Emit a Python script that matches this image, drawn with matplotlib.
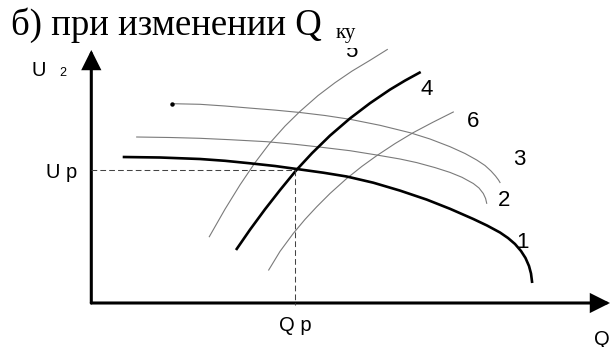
import matplotlib.pyplot as plt
from matplotlib.patches import FancyArrowPatch
from matplotlib.transforms import Bbox, TransformedBbox

# ============================================================
# THEME
# ============================================================

plt.rcParams["font.family"] = ["Liberation Sans", "DejaVu Sans"]
plt.rcParams["figure.dpi"] = 100
plt.rcParams["savefig.dpi"] = 100

THICK = "#000000"
THIN = "#7a7a7a"
DASH = "#444444"

# ============================================================
# DATA  (Q along x, U along y)
# ============================================================

# 1 - thick falling characteristic
Q1 = [32.7, 70, 110, 135, 160, 185, 206.7, 233.3, 256.7, 283.3, 310, 336.7,
      360, 383.3, 397, 410, 418, 425, 431, 435.5, 439, 441, 442.2]
U1 = [146, 145.5, 144, 142.2, 139.7, 137, 134, 130.3, 126.5, 120.3, 112.4, 103.4,
      94.2, 84, 77.5, 70.5, 65, 59, 52, 45, 37, 29.5, 20]

# 2 - thin falling characteristic
Q2 = [46.7, 80, 110, 140, 176.7, 205, 230, 260, 286.7, 310, 326.7, 345,
      360, 372, 383.3, 389, 393.3, 395.6, 396.7]
U2 = [166, 165.5, 164.7, 163.3, 161.3, 158.7, 155.9, 152.3, 148, 144, 140.4, 135.4,
      130.6, 125.7, 119.5, 115, 109.5, 104.5, 99.7]

# 3 - thin falling characteristic
Q3 = [82.3, 110, 135, 160, 185, 210, 235, 260, 290, 320, 340, 360,
      375, 386.7, 395, 401, 405.5, 408.5, 410]
U3 = [199.3, 198.7, 197, 194.9, 192.9, 190.5, 187.5, 183.7, 177.7, 170.3, 164, 156.3,
      149.5, 143, 137.5, 132, 127, 123, 120.5]

# 4 - thick rising characteristic
Q4 = [146, 160, 175, 190, 206.7, 222, 240, 260, 280, 300, 315, 330.7]
U4 = [53, 73.3, 93.7, 112.9, 133.3, 149.8, 167.4, 184.6, 199.8, 213.4, 222.4, 231]

# 5 - thin rising characteristic
Q5 = [119.3, 135, 150, 165, 180, 195, 210, 228, 245, 262, 280, 297.3]
U5 = [66.3, 93.8, 118.1, 140.3, 160.1, 176.9, 191.6, 207.4, 220.3, 231.9, 242.7, 253.5]

# 6 - thin rising characteristic
Q6 = [178.7, 190, 203.3, 215, 226.7, 240, 256.7, 272, 286.7, 305, 323.3, 343, 363.3]
U6 = [33, 51.6, 69.6, 83.6, 96.2, 109.5, 124.5, 136.7, 147.3, 159.4, 170.4, 180.8, 191]

# operating point
Q_P = 205
U_P = 133.5

CURVE_NAMES = ["1", "2", "3", "4", "5", "6"]
NAME_Q = [432.5, 414.3, 429, 337, 261, 383]
NAME_U = [54.7, 97, 138, 208, 246, 176]

TITLE = "б) при изменении Q"
TITLE_SUB = "ку"

# ============================================================
# FIGURE
# ============================================================

fig = plt.figure(figsize=(6.1, 3.47))
ax = fig.add_axes([0, 0, 1, 1])
ax.set_xlim(-90, 520)
ax.set_ylim(-44, 303)
ax.axis("off")

# --------------------------------------------------
# Axes with arrows
# --------------------------------------------------

for start, end in [((1.3, 0), (1.3, 253)), ((1.3, 0), (520, 0))]:
    ax.add_patch(FancyArrowPatch(
        start, end,
        arrowstyle="-|>,head_length=11,head_width=5.5",
        mutation_scale=1,
        linewidth=2.2,
        color="black",
        shrinkA=0,
        shrinkB=0,
        joinstyle="miter"
    ))

# --------------------------------------------------
# Curves
# --------------------------------------------------

for q, u in [(Q2, U2), (Q3, U3), (Q5, U5), (Q6, U6)]:
    ax.plot(q, u, color=THIN, linewidth=0.8)

ax.plot(Q3[:1], U3[:1], "o", color="black", markersize=2.2)

ax.plot(Q1, U1, color=THICK, linewidth=1.9, solid_capstyle="butt")
ax.plot(Q4, U4, color=THICK, linewidth=1.9, solid_capstyle="butt")

# --------------------------------------------------
# Operating point guides
# --------------------------------------------------

ax.plot([1.3, Q_P], [U_P, U_P], color=DASH, linewidth=0.75, linestyle=(0, (5.5, 3)))
ax.plot([Q_P, Q_P], [U_P, -2], color=DASH, linewidth=0.75, linestyle=(0, (5.5, 3)))

# --------------------------------------------------
# Labels
# --------------------------------------------------

# top of label "5" is hidden under the heading
clip_box = TransformedBbox(Bbox([[-90, -44], [520, 255.5]]), ax.transData)

for name, q, u in zip(CURVE_NAMES, NAME_Q, NAME_U):
    t = ax.text(q, u, name, fontsize=16, ha="center", va="baseline")
    t.set_clip_box(clip_box)
    t.set_clip_on(True)

ax.text(-58.5, 227.3, "U", fontsize=14.5, ha="left", va="baseline")
ax.text(-30.5, 227.3, "2", fontsize=9, ha="left", va="baseline")
ax.text(-43.5, 125, "U p", fontsize=14.5, ha="left", va="baseline")
ax.text(Q_P, -28, "Q p", fontsize=14.5, ha="center", va="baseline")
ax.text(504, -42, "Q", fontsize=14.5, ha="left", va="baseline")

ax.text(-79, 268, TITLE, fontsize=26.5, family="Liberation Serif", ha="left", va="baseline")
ax.text(246, 264.7, TITLE_SUB, fontsize=15, family="Liberation Serif", ha="left", va="baseline")

fig.savefig("out.png", dpi=100)
plt.close(fig)
